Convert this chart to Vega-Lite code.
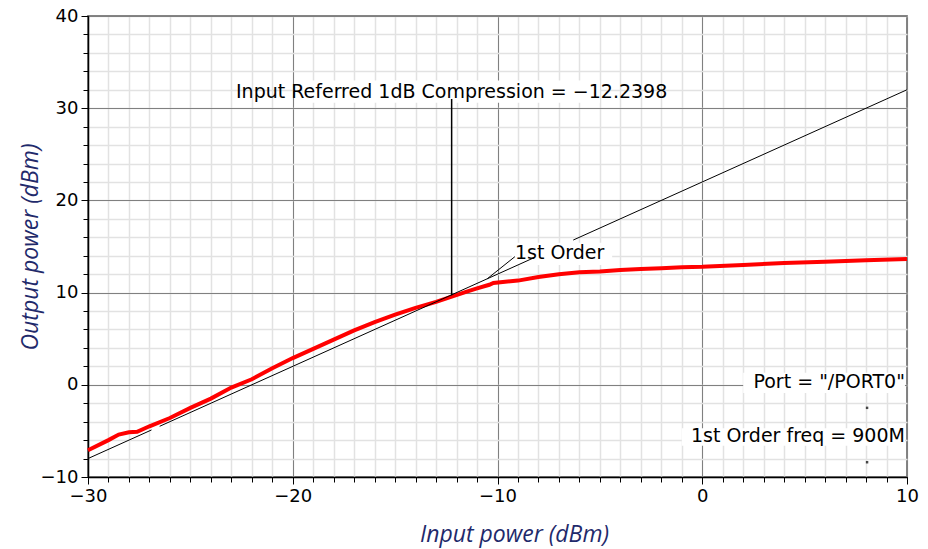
{
  "$schema": "https://vega.github.io/schema/vega-lite/v6.json",
  "width": 819,
  "height": 461,
  "autosize": "none",
  "padding": {"left": 88, "top": 16, "right": 21, "bottom": 72},
  "background": "white",
  "config": {"view": {"stroke": "#333333", "strokeWidth": 1.5}, "font": "DejaVu Sans"},
  "datasets": {
    "red": [
      {"pin": -30, "pout": -7.1}, {"pin": -29, "pout": -6.0}, {"pin": -28.5, "pout": -5.4},
      {"pin": -28.0, "pout": -5.15}, {"pin": -27.6, "pout": -5.1}, {"pin": -27, "pout": -4.5},
      {"pin": -26, "pout": -3.6}, {"pin": -25, "pout": -2.5}, {"pin": -24, "pout": -1.5},
      {"pin": -23, "pout": -0.3}, {"pin": -22, "pout": 0.6}, {"pin": -21, "pout": 1.8},
      {"pin": -20, "pout": 2.9}, {"pin": -19, "pout": 3.9}, {"pin": -18, "pout": 4.9},
      {"pin": -17, "pout": 5.9}, {"pin": -16, "pout": 6.8}, {"pin": -15, "pout": 7.6},
      {"pin": -14, "pout": 8.35}, {"pin": -13, "pout": 9.0}, {"pin": -12.2, "pout": 9.6},
      {"pin": -11.5, "pout": 10.1}, {"pin": -11, "pout": 10.45}, {"pin": -10.4, "pout": 10.85},
      {"pin": -10.2, "pout": 11.05}, {"pin": -9, "pout": 11.3}, {"pin": -8, "pout": 11.7},
      {"pin": -7, "pout": 12.0}, {"pin": -6, "pout": 12.2}, {"pin": -5, "pout": 12.3},
      {"pin": -4, "pout": 12.45}, {"pin": -3, "pout": 12.55}, {"pin": -2, "pout": 12.65},
      {"pin": -1, "pout": 12.75}, {"pin": 0, "pout": 12.8}, {"pin": 2, "pout": 13.0},
      {"pin": 4, "pout": 13.2}, {"pin": 6, "pout": 13.35}, {"pin": 8, "pout": 13.5},
      {"pin": 10, "pout": 13.65}
    ],
    "black": [
      {"pin": -30, "pout": -8.0, "seg": "a"}, {"pin": -26.9, "pout": -4.9, "seg": "a"},
      {"pin": -26.5, "pout": -4.5, "seg": "b"}, {"pin": -8.2, "pout": 13.8, "seg": "b"},
      {"pin": -6.3, "pout": 15.7, "seg": "c"}, {"pin": 10, "pout": 32.0, "seg": "c"},
      {"pin": -10.5, "pout": 11.5, "seg": "d"}, {"pin": -9.15, "pout": 13.9, "seg": "d"}
    ],
    "boxes": [
      {"xa": -19.5, "xb": -5.0, "ya": 30.6, "yb": 33.0},
      {"xa": -9.3, "xb": -4.4, "ya": 13.0, "yb": 15.4},
      {"xa": 2.0, "xb": 9.9, "ya": -0.9, "yb": 1.3},
      {"xa": -1.0, "xb": 9.9, "ya": -6.6, "yb": -4.7}
    ],
    "labelsC": [
      {"pin": -12.24, "pout": 31.8, "text": "Input Referred 1dB Compression = −12.2398"}
    ],
    "labelsL": [
      {"pin": -9.15, "pout": 14.3, "text": "1st Order"}
    ],
    "labelsR": [
      {"pin": 9.9, "pout": 0.3, "text": "Port = \"/PORT0\""},
      {"pin": 9.9, "pout": -5.6, "text": "1st Order freq = 900M"}
    ],
    "comp": [{"pin": -12.24, "lo": 9.7, "hi": 31.0}],
    "dots": [{"pin": 8.05, "pout": -2.5}, {"pin": 8.05, "pout": -8.4}]
  },
  "resolve": {"axis": {"x": "independent", "y": "independent"}},
  "layer": [
    {
      "data": {"name": "boxes"},
      "mark": {"type": "rect", "fill": "white", "stroke": null},
      "encoding": {
        "x": {"field": "xa", "type": "quantitative",
          "scale": {"domain": [-30, 10], "nice": false, "zero": false},
          "axis": {"orient": "bottom", "values": [-30,-29,-28,-27,-26,-25,-24,-23,-22,-21,-20,-19,-18,-17,-16,-15,-14,-13,-12,-11,-10,-9,-8,-7,-6,-5,-4,-3,-2,-1,0,1,2,3,4,5,6,7,8,9,10],
            "grid": true, "gridColor": "#e2e2e2", "gridWidth": 1.5, "labels": false, "domain": false,
            "ticks": true, "tickSize": 5, "tickColor": "#000000", "tickWidth": 1, "title": null}},
        "x2": {"field": "xb"},
        "y": {"field": "ya", "type": "quantitative",
          "scale": {"domain": [-10, 40], "nice": false, "zero": false},
          "axis": {"orient": "left", "values": [-10,-8,-6,-4,-2,0,2,4,6,8,10,12,14,16,18,20,22,24,26,28,30,32,34,36,38,40],
            "grid": true, "gridColor": "#e2e2e2", "gridWidth": 1.5, "labels": false, "domain": false,
            "ticks": true, "tickSize": 5, "tickColor": "#000000", "tickWidth": 1, "title": null}},
        "y2": {"field": "yb"}
      }
    },
    {
      "data": {"name": "red"},
      "mark": {"type": "line", "color": "#ff0000", "strokeWidth": 4},
      "encoding": {
        "x": {"field": "pin", "type": "quantitative",
          "scale": {"domain": [-30, 10], "nice": false, "zero": false},
          "axis": {"orient": "bottom", "values": [-30, -20, -10, 0, 10], "grid": true, "gridColor": "#808080", "gridWidth": 1,
            "domain": true, "domainColor": "#000000", "domainWidth": 1.5, "ticks": true, "tickSize": 7, "tickColor": "#000000",
            "labelFont": "DejaVu Sans", "labelFontSize": 18, "labelColor": "#000000", "labelPadding": 3, "labelFlush": false,
            "title": "Input power (dBm)", "titleFont": "Open Sans", "titleFontStyle": "italic", "titleFontWeight": "normal",
            "titleFontSize": 23, "titleColor": "#1f2a6b", "titlePadding": 18, "titleX": 426}},
        "y": {"field": "pout", "type": "quantitative",
          "scale": {"domain": [-10, 40], "nice": false, "zero": false},
          "axis": {"orient": "left", "values": [-10, 0, 10, 20, 30, 40], "grid": true, "gridColor": "#808080", "gridWidth": 1,
            "domain": true, "domainColor": "#000000", "domainWidth": 1.5, "ticks": true, "tickSize": 7, "tickColor": "#000000",
            "labelFont": "DejaVu Sans", "labelFontSize": 18, "labelColor": "#000000", "labelPadding": 3, "labelFlush": false,
            "title": "Output power (dBm)", "titleFont": "Open Sans", "titleFontStyle": "italic", "titleFontWeight": "normal",
            "titleFontSize": 23, "titleColor": "#1f2a6b", "titlePadding": -2}}
      }
    },
    {
      "data": {"name": "black"},
      "mark": {"type": "line", "color": "#000000", "strokeWidth": 1},
      "encoding": {
        "x": {"field": "pin", "type": "quantitative", "axis": null},
        "y": {"field": "pout", "type": "quantitative", "axis": null},
        "detail": {"field": "seg"}
      }
    },
    {
      "data": {"name": "comp"},
      "mark": {"type": "rule", "color": "#000000", "strokeWidth": 1.5},
      "encoding": {
        "x": {"field": "pin", "type": "quantitative", "axis": null},
        "y": {"field": "lo", "type": "quantitative", "axis": null},
        "y2": {"field": "hi"}
      }
    },
    {
      "data": {"name": "labelsC"},
      "mark": {"type": "text", "font": "DejaVu Sans", "fontSize": 19, "color": "#000000", "baseline": "middle", "align": "center"},
      "encoding": {
        "x": {"field": "pin", "type": "quantitative", "axis": null},
        "y": {"field": "pout", "type": "quantitative", "axis": null},
        "text": {"field": "text"}
      }
    },
    {
      "data": {"name": "labelsL"},
      "mark": {"type": "text", "font": "DejaVu Sans", "fontSize": 19, "color": "#000000", "baseline": "middle", "align": "left"},
      "encoding": {
        "x": {"field": "pin", "type": "quantitative", "axis": null},
        "y": {"field": "pout", "type": "quantitative", "axis": null},
        "text": {"field": "text"}
      }
    },
    {
      "data": {"name": "labelsR"},
      "mark": {"type": "text", "font": "DejaVu Sans", "fontSize": 19, "color": "#000000", "baseline": "middle", "align": "right"},
      "encoding": {
        "x": {"field": "pin", "type": "quantitative", "axis": null},
        "y": {"field": "pout", "type": "quantitative", "axis": null},
        "text": {"field": "text"}
      }
    },
    {
      "data": {"name": "dots"},
      "mark": {"type": "square", "color": "#000000", "size": 6, "filled": true},
      "encoding": {
        "x": {"field": "pin", "type": "quantitative", "axis": null},
        "y": {"field": "pout", "type": "quantitative", "axis": null}
      }
    }
  ]
}
